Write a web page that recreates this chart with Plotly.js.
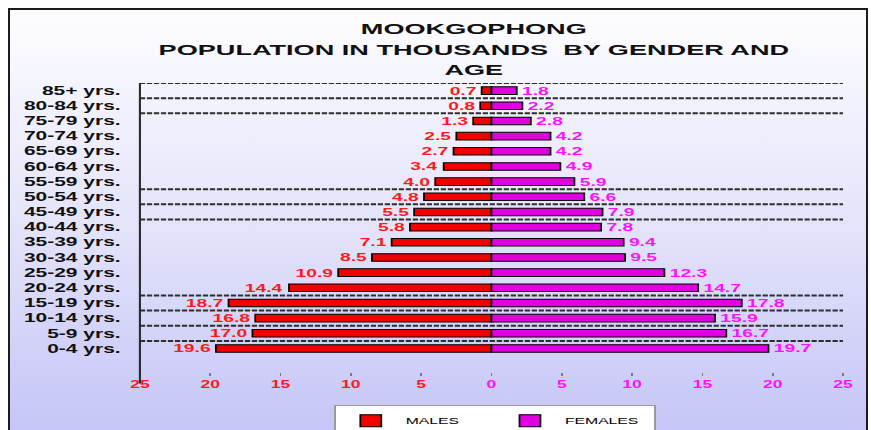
<!DOCTYPE html>
<html>
<head>
<meta charset="utf-8">
<script src="https://cdn.plot.ly/plotly-3.0.1.min.js"></script>
<style>
  html, body { margin: 0; padding: 0; background: #ffffff; }
  #page { position: relative; width: 871px; height: 430px; overflow: hidden; background: #ffffff; }
  #frame {
    position: absolute; left: 8px; top: 8px; width: 860px; height: 440px;
    box-sizing: border-box; border: 2px solid #1c1c1c;
    background: linear-gradient(to bottom, #fdfdff 0%, #e6e6fb 45%, #c3c3f7 100%);
  }
  /* the chart is laid out narrow and widened, giving the broad lettering of the sheet export */
  #chart {
    position: absolute; left: 0; top: 0; width: 498px; height: 430px;
    transform: scaleX(1.749); transform-origin: 0 0;
  }
</style>
</head>
<body>
<div id="page">
  <div id="frame"></div>
  <div id="chart"></div>
</div>
<script>
// Age bands, bottom to top
const ageGroups = ['0-4 yrs.', '5-9 yrs.', '10-14 yrs.', '15-19 yrs.', '20-24 yrs.', '25-29 yrs.',
                   '30-34 yrs.', '35-39 yrs.', '40-44 yrs.', '45-49 yrs.', '50-54 yrs.', '55-59 yrs.',
                   '60-64 yrs.', '65-69 yrs.', '70-74 yrs.', '75-79 yrs.', '80-84 yrs.', '85+ yrs.'];

// Population in thousands
const males   = [19.6, 17.0, 16.8, 18.7, 14.4, 10.9, 8.5, 7.1, 5.8, 5.5, 4.8, 4.0, 3.4, 2.7, 2.5, 1.3, 0.8, 0.7];
const females = [19.7, 16.7, 15.9, 17.8, 14.7, 12.3, 9.5, 9.4, 7.8, 7.9, 6.6, 5.9, 4.9, 4.2, 4.2, 2.8, 2.2, 1.8];

const xTicks = [-25, -20, -15, -10, -5, 0, 5, 10, 15, 20, 25];

const FONT = 'Liberation Sans, Arial, sans-serif';
const RED = '#f20000';
const MAGENTA = '#e000e0';

// Ruled category boundaries (between age bands)
const ruledBoundaries = [0.5, 1.5, 2.5, 3.5, 8.5, 9.5, 10.5, 15.5, 16.5, 17.5];

const maleTrace = {
  type: 'bar', orientation: 'h', name: 'MALES',
  y: ageGroups, x: males.map(v => -v),
  text: males.map(v => v.toFixed(1)),
  textposition: 'outside', constraintext: 'none', cliponaxis: false,
  textfont: { family: FONT, size: 11, weight: 'bold', color: '#ff1a1a' },
  marker: { color: RED, line: { color: '#000000', width: 1 } },
  hoverinfo: 'skip'
};

const femaleTrace = {
  type: 'bar', orientation: 'h', name: 'FEMALES',
  y: ageGroups, x: females,
  text: females.map(v => v.toFixed(1)),
  textposition: 'outside', constraintext: 'none', cliponaxis: false,
  textfont: { family: FONT, size: 11, weight: 'bold', color: '#ff10ff' },
  marker: { color: MAGENTA, line: { color: '#000000', width: 1 } },
  hoverinfo: 'skip'
};

const shapes = ruledBoundaries.map(b => ({
  type: 'line', layer: 'below', xref: 'paper', yref: 'y',
  x0: 0, x1: 1, y0: b, y1: b,
  line: { color: '#2e2e2e', width: 2, dash: '3px,1px' }
}));
// left border of the plot, running down past the tick row
shapes.push({
  type: 'line', layer: 'above', xref: 'paper', yref: 'paper',
  x0: 0, x1: 0, y0: 1, y1: -0.04,
  line: { color: '#2a2a2a', width: 1.2 }
});

const layout = {
  width: 498, height: 430,
  paper_bgcolor: 'rgba(0,0,0,0)', plot_bgcolor: 'rgba(0,0,0,0)',
  margin: { l: 80, r: 16, t: 83, b: 58, autoexpand: false },
  barmode: 'overlay', bargap: 0.5,
  hovermode: false,
  font: { family: FONT, color: '#111111' },
  title: {
    text: 'MOOKGOPHONG<br>POPULATION IN THOUSANDS\u00a0 BY GENDER AND<br>AGE',
    xref: 'container', x: 0.544, xanchor: 'center',
    yref: 'container', y: 0.92, yanchor: 'top',
    font: { family: FONT, size: 15.5, weight: 'bold', color: '#111111' }
  },
  xaxis: {
    range: [-25, 25], autorange: false,
    tickvals: xTicks,
    ticktext: xTicks.map(v => '<span style="color:' + (v < 0 ? '#ff1a1a' : '#ff10ff') + '">' + Math.abs(v) + '</span>'),
    ticks: 'outside', ticklen: 3, tickwidth: 1, tickcolor: '#7a7a7a',
    showgrid: false, zeroline: false, showline: false,
    tickfont: { family: FONT, size: 10, weight: 'bold' },
    fixedrange: true
  },
  yaxis: {
    type: 'category', categoryorder: 'array', categoryarray: ageGroups,
    range: [-1.55, 17.5], autorange: false,
    showgrid: false, zeroline: false, showline: false, ticks: '',
    ticklabelstandoff: 10,
    tickfont: { family: FONT, size: 12, weight: 'bold', color: '#111111' },
    fixedrange: true
  },
  legend: {
    orientation: 'h', x: 0.505, xanchor: 'center', y: -0.115, yanchor: 'top',
    bgcolor: '#ffffff', bordercolor: '#9a9a9a', borderwidth: 1,
    font: { family: FONT, size: 9, color: '#000000' },
    entrywidth: 46, itemwidth: 30
  },
  shapes: shapes,
  showlegend: true
};

Plotly.newPlot('chart', [maleTrace, femaleTrace], layout, { displayModeBar: false, staticPlot: true });
</script>
</body>
</html>
